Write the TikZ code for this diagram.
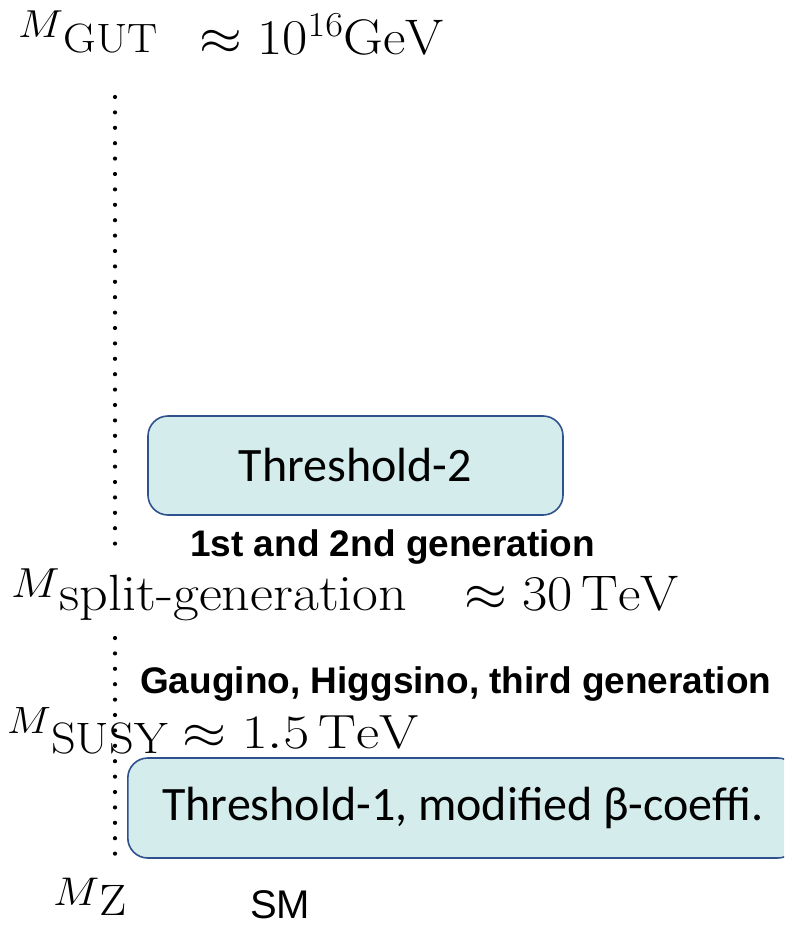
\RequirePackage{fix-cm}
\documentclass[tikz,border=0pt]{standalone}
\usepackage{graphicx}
\usepackage{fontspec}
\newfontfamily\calfont{Carlito}
\newfontfamily\helvfont{Liberation Sans}
\usetikzlibrary{positioning}

\definecolor{boxfill}{HTML}{D5ECEC}
\definecolor{boxline}{HTML}{2F528F}

\newcommand{\fsize}[1]{\fontsize{#1}{#1}\selectfont}
% M with its (oversized) subscript: M size, subscript size, raise of M, subscript
\newcommand{\scalelab}[4]{\scalebox{1.1}[1]{\raisebox{#3pt}{\fsize{#1}$M$}{\fsize{#2}#4}}}
% a value like "approx 30 TeV": stretch, size, formula
\newcommand{\scaleval}[3]{\scalebox{#1}[1]{\fsize{#2}$#3$}}

\tikzset{
  threshold/.style={draw=boxline, fill=boxfill, line width=1.6pt, rounded corners=20pt,
    font=\calfont\fsize{48}},
  genlabel/.style={font=\helvfont\bfseries\fsize{37}, inner sep=0pt, anchor=base west},
  masslabel/.style={inner sep=0pt, anchor=base west},
  scale_dots/.style={line width=4.2pt, line cap=round, dash pattern=on 0pt off 15.4pt},
}

\begin{document}
\begin{tikzpicture}[x=1pt,y=-1pt]
  \useasboundingbox (0,0) rectangle (784,925);
  \clip (0,0) rectangle (784,925);

  % energy axis
  \coordinate (gut_top) at (115,97);
  \coordinate (split_top) at (115,545);
  \coordinate (split_bot) at (115,638);
  \coordinate (z_bot) at (115,867);
  \draw[scale_dots] (gut_top) -- (split_top);
  \draw[scale_dots] (split_bot) -- (z_bot);

  % thresholds
  \node[threshold, minimum width=415pt, minimum height=99pt] (thr_two) at (355.5,465.5) {Threshold-2};
  \node[threshold, minimum width=670pt, minimum height=100pt, anchor=west] (thr_one) at (127,808)
    {Threshold-1, modified β-coeffi.};

  % mass scales
  \node[masslabel] (m_gut) at (18,53) {\scalelab{39}{41}{15}{GUT}};
  \node[masslabel] (gut_val) at (199,55) {\scaleval{1.1}{50}{\approx 10^{16}\mathrm{GeV}}};

  \node[genlabel] (gen_12) at (190,556) {1st and 2nd generation};
  \node[masslabel] (m_split) at (11,610) {\scalelab{42}{51}{13}{split-generation}};
  \node[masslabel] (split_val) at (464,610) {\scaleval{1.1}{50}{\approx 30\,\mathrm{TeV}}};

  \node[genlabel] (gen_3) at (140,693) {Gaugino, Higgsino, third generation};
  \node[masslabel] (m_susy) at (7,753) {\scalelab{38}{44}{20}{SUSY}};
  \node[masslabel] (susy_val) at (182,748) {\scaleval{1.18}{48}{\approx 1.5\,\mathrm{TeV}}};

  \node[masslabel] (m_z) at (53,915) {\scalelab{40}{44}{10}{Z}};
  \node[masslabel, font=\helvfont\fsize{40}] (sm) at (250,918) {SM};
\end{tikzpicture}
\end{document}
